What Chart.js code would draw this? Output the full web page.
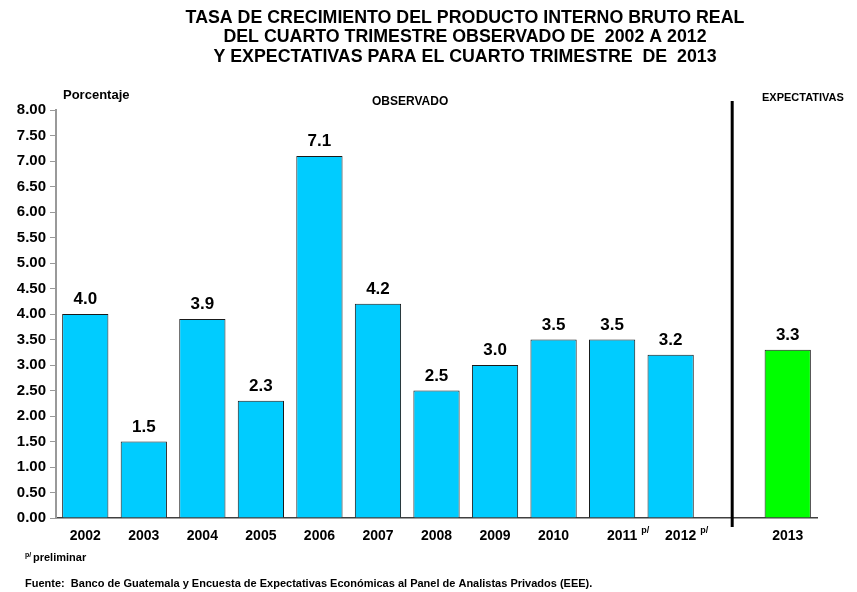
<!DOCTYPE html>
<html lang="es">
<head>
    <meta charset="UTF-8">
    <title>PIB Guatemala - cuarto trimestre</title>
    <script src="https://cdn.jsdelivr.net/npm/chart.js"></script>
    <style>
        body {
            margin: 0;
            background: #ffffff;
        }
        #wrap {
            position: relative;
            width: 857px;
            height: 592px;
        }
    </style>
</head>
<body>

<div id="wrap">
    <canvas id="pibChart" width="857" height="592"></canvas>
</div>

<script>
// Datos
const years = ['2002', '2003', '2004', '2005', '2006', '2007', '2008', '2009', '2010', '2011', '2012', '', '2013'];
const prelim = [false, false, false, false, false, false, false, false, false, true, true, false, false];
const observed = [4.0, 1.5, 3.9, 2.3, 7.1, 4.2, 2.5, 3.0, 3.5, 3.5, 3.2, null, null];
const expected = [null, null, null, null, null, null, null, null, null, null, null, null, 3.3];
const titleLines = [
    'TASA DE CRECIMIENTO DEL PRODUCTO INTERNO BRUTO REAL',
    'DEL CUARTO TRIMESTRE OBSERVADO DE  2002 A 2012',
    'Y EXPECTATIVAS PARA EL CUARTO TRIMESTRE  DE  2013'
];

const FONT = '"Liberation Sans", Arial, sans-serif';
const NARROW = '"Liberation Sans Narrow", "Arial Narrow", "Liberation Sans", sans-serif';

// textos, etiquetas y linea divisoria
const extras = {
    id: 'extras',
    afterDatasetsDraw(chart) {
        const ctx = chart.ctx;
        const x = chart.scales.x;
        ctx.save();

        // valores sobre las barras
        ctx.fillStyle = '#000';
        ctx.font = 'bold 17px ' + FONT;
        ctx.textAlign = 'center';
        ctx.textBaseline = 'bottom';
        chart.data.datasets.forEach((ds, i) => {
            chart.getDatasetMeta(i).data.forEach((bar, j) => {
                if (ds.data[j] == null) return;
                ctx.fillText(ds.data[j].toFixed(1), bar.x, bar.y - 6);
            });
        });

        // etiquetas del eje x
        ctx.textBaseline = 'middle';
        years.forEach((yr, j) => {
            if (!yr) return;
            const cx = x.getPixelForValue(j);
            ctx.font = 'bold 14px ' + FONT;
            if (prelim[j]) {
                ctx.textAlign = 'center';
                ctx.fillText(yr, cx + 10, 536);
                const w = ctx.measureText(yr).width;
                ctx.font = 'bold 9px ' + FONT;
                ctx.textAlign = 'left';
                ctx.fillText('p/', cx + 10 + w / 2 + 4, 531);
            } else {
                ctx.textAlign = 'center';
                ctx.fillText(yr, cx, 536);
            }
        });

        // linea entre observado y expectativas
        const lx = x.getPixelForValue(11) + 3;
        ctx.strokeStyle = '#000';
        ctx.lineWidth = 3;
        ctx.beginPath();
        ctx.moveTo(lx, 101);
        ctx.lineTo(lx, 527);
        ctx.stroke();

        // titulo
        ctx.textAlign = 'center';
        ctx.textBaseline = 'middle';
        ctx.font = 'bold 17.8px ' + FONT;
        titleLines.forEach((t, k) => {
            ctx.fillText(t, 465, 18 + k * 19.5);
        });

        // rotulos
        ctx.textAlign = 'left';
        ctx.font = 'bold 13px ' + FONT;
        ctx.fillText('Porcentaje', 63, 95);
        ctx.font = 'bold 12px ' + FONT;
        ctx.fillText('OBSERVADO', 372, 102);
        ctx.font = 'bold 11px ' + FONT;
        ctx.fillText('EXPECTATIVAS', 762, 98);

        // notas
        ctx.font = 'bold 7px ' + FONT;
        ctx.fillText('p/', 25, 555);
        ctx.font = 'bold 11px ' + NARROW;
        ctx.fillText('preliminar', 33, 558);
        ctx.fillText('Fuente:  Banco de Guatemala y Encuesta de Expectativas Económicas al Panel de Analistas Privados (EEE).', 25, 584);

        ctx.restore();
    }
};

new Chart(document.getElementById('pibChart'), {
    type: 'bar',
    data: {
        labels: years,
        datasets: [{
            label: 'Observado',
            data: observed,
            backgroundColor: '#00CCFF',
            borderColor: '#1a1a1a',
            borderWidth: 1,
            barPercentage: 0.79,
            categoryPercentage: 1,
            skipNull: true
        }, {
            label: 'Expectativas',
            data: expected,
            backgroundColor: '#00FF00',
            borderColor: '#1a1a1a',
            borderWidth: 1,
            barPercentage: 0.79,
            categoryPercentage: 1,
            skipNull: true
        }]
    },
    options: {
        responsive: false,
        animation: false,
        layout: {
            padding: { top: 110, right: 40, bottom: 0, left: 0 }
        },
        plugins: {
            legend: { display: false },
            tooltip: { enabled: false }
        },
        datasets: {
            bar: { grouped: false }
        },
        scales: {
            x: {
                grid: { display: false },
                border: { color: '#404040', width: 1.5 },
                ticks: { display: false },
                afterFit: s => { s.height = 74; }
            },
            y: {
                min: 0,
                max: 8,
                grid: { drawOnChartArea: false, drawTicks: true, tickLength: 6, color: '#999' },
                border: { color: '#999', width: 2 },
                ticks: {
                    stepSize: 0.5,
                    color: '#000',
                    padding: 4,
                    font: { family: FONT, size: 15, weight: 'bold' },
                    callback: v => v.toFixed(2)
                },
                afterFit: s => { s.width = 56; }
            }
        }
    },
    plugins: [extras]
});
</script>
</body>
</html>
